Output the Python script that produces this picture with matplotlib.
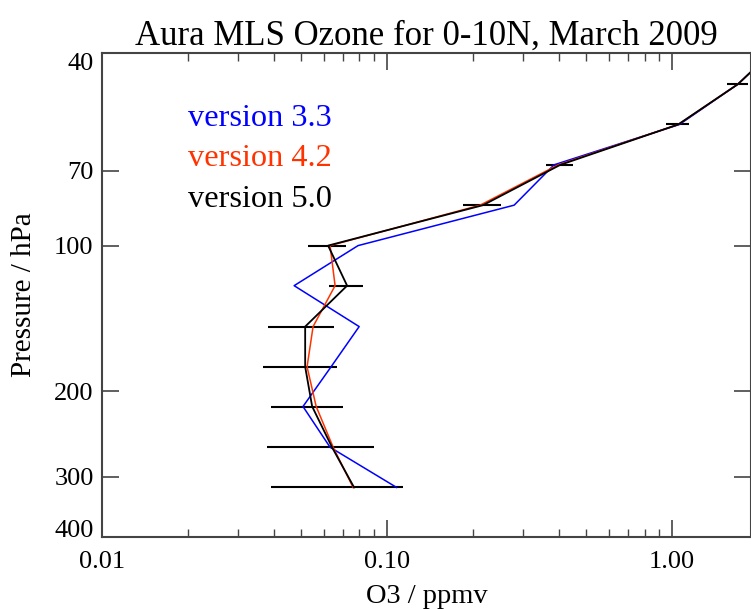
import matplotlib
matplotlib.use('Agg')
import matplotlib.pyplot as plt
from matplotlib.ticker import FixedLocator, LogLocator, NullFormatter, FuncFormatter

plt.rcParams['font.family'] = ['Liberation Serif', 'DejaVu Serif']

# MLS pressure levels (hPa)
pressure = [316, 261, 215, 178, 147, 121, 100, 82.5, 68.1, 56.2, 46.4, 38.3]

# O3 (ppmv)
o3_v33 = [0.108, 0.0631, 0.0507, 0.0636, 0.0798, 0.0472, 0.0791, 0.279, 0.385, 1.06, 1.70, 2.4]
o3_v42 = [0.0760, 0.0647, 0.0564, 0.0524, 0.0550, 0.0657, 0.0631, 0.212, 0.398, 1.05, 1.70, 2.4]
o3_v50 = [0.0766, 0.0641, 0.0546, 0.0516, 0.0516, 0.0724, 0.0621, 0.217, 0.405, 1.05, 1.70, 2.4]
err_v50 = [0.0375, 0.0262, 0.0153, 0.0149, 0.0134, 0.0099, 0.0094, 0.033, 0.045, 0.10, 0.14, 0.2]

yticks = [40, 70, 100, 200, 300, 400]
xticks = [0.01, 0.1, 1.0]

fig = plt.figure(figsize=(7.51, 6.09), dpi=100)
ax = fig.add_axes([102 / 751, 72 / 609, 649 / 751, 484 / 609])

ax.errorbar(o3_v50, pressure, xerr=err_v50, fmt='none', ecolor='black', elinewidth=1.5, capsize=0)
ax.plot(o3_v33, pressure, color='#0000ff', lw=1.1)
ax.plot(o3_v42, pressure, color='#ff3300', lw=1.1)
ax.plot(o3_v50, pressure, color='black', lw=1.3)

ax.set_xscale('log')
ax.set_yscale('log')
ax.set_xlim(0.01, 1.89)
ax.set_ylim(400, 40)

ax.xaxis.set_major_locator(FixedLocator(xticks))
ax.xaxis.set_minor_locator(LogLocator(base=10, subs=range(2, 10)))
ax.xaxis.set_minor_formatter(NullFormatter())
ax.xaxis.set_major_formatter(FuncFormatter(lambda v, p: f"{v:.2f}"))
ax.yaxis.set_major_locator(FixedLocator(yticks))
ax.yaxis.set_minor_locator(FixedLocator([]))
ax.yaxis.set_major_formatter(FuncFormatter(lambda v, p: f"{v:g}"))

ax.tick_params(which='major', direction='in', length=12, width=1.2, labelsize=19,
               top=True, right=True, color='#444444')
ax.tick_params(axis='x', which='major', pad=10)
ax.tick_params(axis='y', which='major', pad=6)
ax.tick_params(which='minor', direction='in', length=6, width=1.0, top=True, color='#444444')
for s in ax.spines.values():
    s.set_color('#444444')
    s.set_linewidth(1.5)

# end labels sit inside the axis range, like the original
fig.canvas.draw()
yt = ax.yaxis.get_major_ticks()
yt[0].label1.set_va('top')
yt[-1].label1.set_va('baseline')

ax.set_title('Aura MLS Ozone for 0-10N, March 2009', fontsize=25, pad=3)
ax.set_xlabel('O3 / ppmv', fontsize=20.5, labelpad=8)
ax.set_ylabel('Pressure / hPa', fontsize=21, labelpad=12)

ax.text(0.1325, 0.865, 'version 3.3', color='#0000ff', fontsize=23.3, transform=ax.transAxes, va='center')
ax.text(0.1325, 0.782, 'version 4.2', color='#ff3300', fontsize=23.3, transform=ax.transAxes, va='center')
ax.text(0.1325, 0.697, 'version 5.0', color='black', fontsize=23.3, transform=ax.transAxes, va='center')

fig.savefig('out.png', dpi=100)
